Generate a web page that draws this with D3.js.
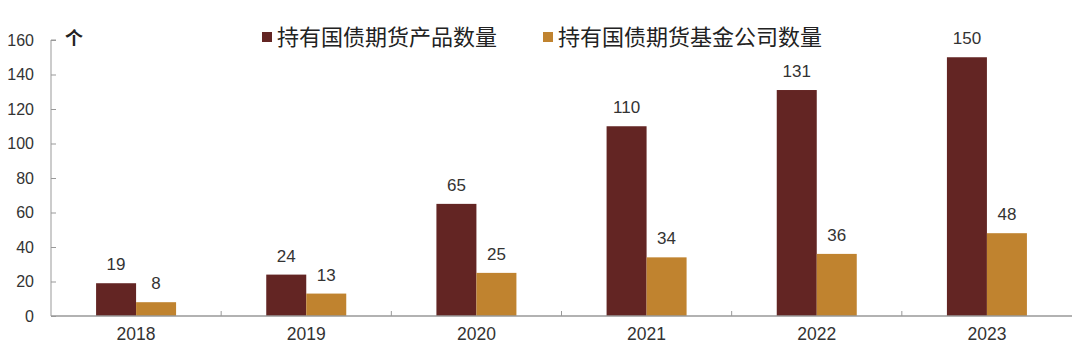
<!DOCTYPE html>
<html>
<head>
<meta charset="utf-8">
<script src="https://cdn.jsdelivr.net/npm/d3@7"></script>
<style>
  body { margin: 0; background: #fff; }
  svg text { font-family: "Liberation Sans", Arial, sans-serif; fill: #333; }
</style>
</head>
<body>
<div id="chart"></div>
<script>
const years = ["2018", "2019", "2020", "2021", "2022", "2023"];
const products = [19, 24, 65, 110, 131, 150];
const companies = [8, 13, 25, 34, 36, 48];
const seriesNames = ["持有国债期货产品数量", "持有国债期货基金公司数量"];
const colors = ["#632523", "#C0832F"];
const yTicks = [0, 20, 40, 60, 80, 100, 120, 140, 160];

const width = 1080, height = 354;
const margin = {top: 40, right: 8, bottom: 38, left: 51};

const svg = d3.select("#chart").append("svg")
  .attr("width", width)
  .attr("height", height);

const x = d3.scaleBand()
  .domain(years)
  .range([margin.left, width - margin.right])
  .paddingInner(0)
  .paddingOuter(0);

const y = d3.scaleLinear()
  .domain([0, 160])
  .range([height - margin.bottom, margin.top]);

const bw = 40; // width of one bar
const series = [products, companies];

// bars + value labels
series.forEach((vals, s) => {
  svg.append("g").selectAll("rect")
    .data(vals)
    .enter().append("rect")
    .attr("x", (d, i) => x(years[i]) + x.bandwidth() / 2 - bw + s * bw)
    .attr("y", d => y(d))
    .attr("width", bw)
    .attr("height", d => y(0) - y(d))
    .attr("fill", colors[s]);

  svg.append("g").selectAll("text")
    .data(vals)
    .enter().append("text")
    .attr("x", (d, i) => x(years[i]) + x.bandwidth() / 2 - bw / 2 + s * bw)
    .attr("y", d => y(d) - 13)
    .attr("text-anchor", "middle")
    .style("font-size", "17px")
    .text(d => d);
});

// y axis, ticks pointing inside
const yAxis = svg.append("g")
  .attr("transform", `translate(${margin.left},0)`)
  .call(d3.axisRight(y).tickValues(yTicks).tickSize(5).tickFormat(d => d));
yAxis.select(".domain").attr("stroke", "#999").attr("d", `M5,${y(160)}H0V${y(0)}`);
yAxis.selectAll(".tick line").attr("stroke", "#999");
yAxis.selectAll(".tick text")
  .attr("x", -17)
  .attr("text-anchor", "end")
  .style("font-size", "16px");

// x axis
const xAxis = svg.append("g")
  .attr("transform", `translate(0,${y(0)})`)
  .call(d3.axisBottom(x).tickSize(0).tickPadding(12));
xAxis.select(".domain").attr("stroke", "#999").attr("stroke-width", 1.5)
  .attr("d", `M${margin.left},0H${width - margin.right}`);
xAxis.selectAll(".tick text").style("font-size", "17.5px");
// separators between categories
svg.append("g").selectAll("line")
  .data(years.slice(1))
  .enter().append("line")
  .attr("x1", d => x(d)).attr("x2", d => x(d))
  .attr("y1", y(0)).attr("y2", y(0) - 5)
  .attr("stroke", "#999");

// unit
svg.append("text")
  .attr("x", 74).attr("y", 45)
  .attr("text-anchor", "middle")
  .style("font-family", "'Noto Sans CJK SC', sans-serif")
  .style("font-size", "18px")
  .style("font-weight", "bold")
  .style("fill", "#222")
  .text("个");

// legend
const legendX = [262, 543];
const legend = svg.append("g").selectAll("g")
  .data(seriesNames)
  .enter().append("g")
  .attr("transform", (d, i) => `translate(${legendX[i]},0)`);
legend.append("rect")
  .attr("x", 0).attr("y", 32)
  .attr("width", 10).attr("height", 10)
  .attr("fill", (d, i) => colors[i]);
legend.append("text")
  .attr("x", 15).attr("y", 45)
  .style("font-family", "'Noto Sans CJK SC', sans-serif")
  .style("font-size", "22px")
  .style("fill", "#222")
  .text(d => d);
</script>
</body>
</html>
